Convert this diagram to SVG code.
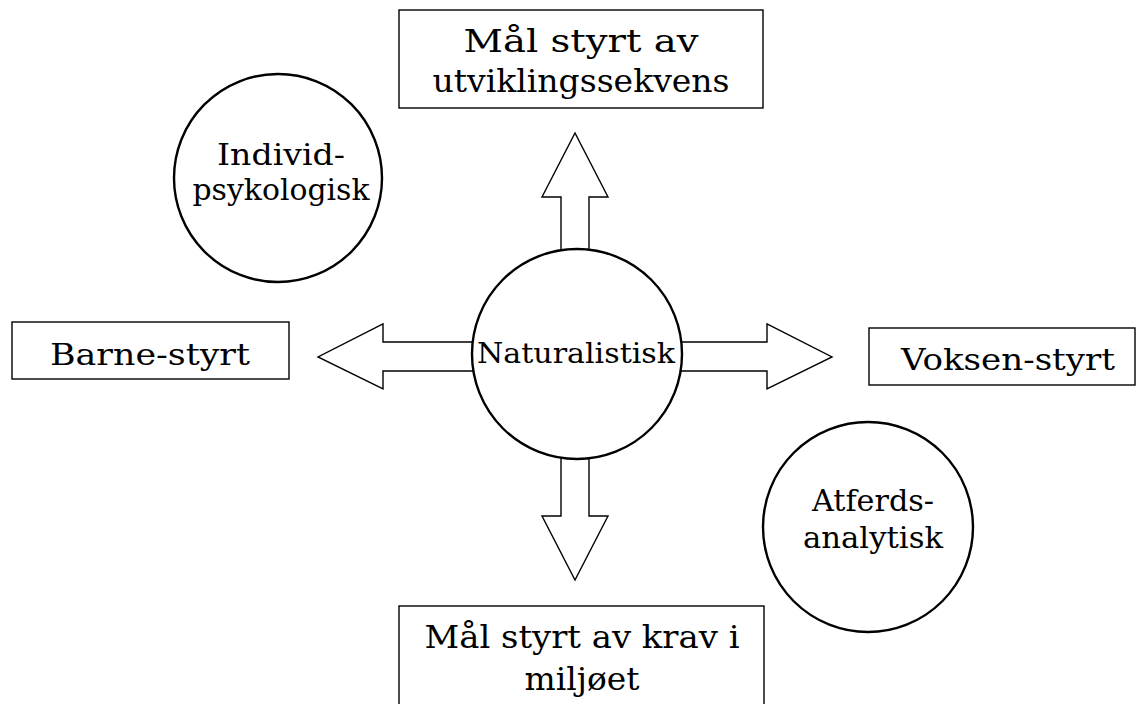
<svg xmlns="http://www.w3.org/2000/svg" width="1137" height="704" viewBox="0 0 1137 704">
<style>
.box{fill:#fff;stroke:#000;stroke-width:1.4}
.circ{fill:#fff;stroke:#000;stroke-width:2.4}
.arr{fill:#fff;stroke:#000;stroke-width:1.4;stroke-linejoin:miter}
text{font-family:"DejaVu Serif","Liberation Serif",serif;fill:#000;text-anchor:middle}
.t32{font-size:32px}
.t30{font-size:30px}
.t28{font-size:28px}
</style>
<rect width="1137" height="704" fill="#fff"/>
<g id="connectors">
<polygon class="arr" points="561,262 561,197 542,197 575,133 608,197 589,197 589,262"/>
<polygon class="arr" points="490,342 383,342 383,324 318,357 383,389 383,371 490,371"/>
<polygon class="arr" points="665,342 767,342 767,324 832,357 767,389 767,371 665,371"/>
<polygon class="arr" points="561,445 561,516 542,516 575,580 608,516 589,516 589,445"/>
</g>
<g id="node-top">
<rect class="box" x="399" y="10" width="364" height="98"/>
<text class="t32" x="581" y="52" textLength="235" lengthAdjust="spacingAndGlyphs">Mål styrt av</text>
<text class="t32" x="581" y="92" textLength="297" lengthAdjust="spacingAndGlyphs">utviklingssekvens</text>
</g>
<g id="node-individ">
<circle class="circ" cx="278" cy="178" r="104"/>
<text class="t30" x="281" y="165" textLength="128" lengthAdjust="spacingAndGlyphs">Individ-</text>
<text class="t30" x="281" y="200" textLength="177" lengthAdjust="spacingAndGlyphs">psykologisk</text>
</g>
<g id="node-barne">
<rect class="box" x="12" y="322" width="277" height="57"/>
<text class="t30" x="150" y="365" textLength="200" lengthAdjust="spacingAndGlyphs">Barne-styrt</text>
</g>
<g id="node-voksen">
<rect class="box" x="869" y="328" width="266" height="57"/>
<text class="t30" x="1008" y="370" textLength="214" lengthAdjust="spacingAndGlyphs">Voksen-styrt</text>
</g>
<g id="node-naturalistisk">
<circle class="circ" cx="577" cy="354" r="105"/>
<text class="t28" x="576" y="363" textLength="198" lengthAdjust="spacingAndGlyphs">Naturalistisk</text>
</g>
<g id="node-atferds">
<circle class="circ" cx="868" cy="527" r="105"/>
<text class="t30" x="873" y="511" textLength="122" lengthAdjust="spacingAndGlyphs">Atferds-</text>
<text class="t30" x="873" y="548" textLength="140" lengthAdjust="spacingAndGlyphs">analytisk</text>
</g>
<g id="node-bottom">
<rect class="box" x="399" y="606" width="365" height="110"/>
<text class="t32" x="582" y="648" textLength="315" lengthAdjust="spacingAndGlyphs">Mål styrt av krav i</text>
<text class="t32" x="582" y="690" textLength="115" lengthAdjust="spacingAndGlyphs">miljøet</text>
</g>
</svg>
